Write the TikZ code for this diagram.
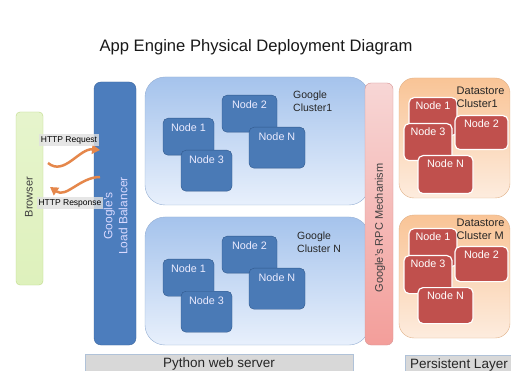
\documentclass[tikz,border=0pt]{standalone}
\usepackage{fontspec}
\setmainfont{Liberation Sans}
\usetikzlibrary{arrows.meta}

\definecolor{browsergreen}{RGB}{222,241,188}
\definecolor{browserline}{RGB}{190,218,136}
\definecolor{lbblue}{RGB}{76,125,189}
\definecolor{lbline}{RGB}{60,102,158}
\definecolor{clustertop}{RGB}{165,195,236}
\definecolor{clusterbottom}{RGB}{232,240,252}
\definecolor{clusterline}{RGB}{150,176,212}
\definecolor{gnodefill}{RGB}{74,122,182}
\definecolor{gnodeline}{RGB}{48,88,140}
\definecolor{rpctop}{RGB}{247,214,213}
\definecolor{rpcbottom}{RGB}{243,158,154}
\definecolor{rpcline}{RGB}{215,150,150}
\definecolor{dtop}{RGB}{249,196,150}
\definecolor{dbottom}{RGB}{253,236,222}
\definecolor{dnodefill}{RGB}{192,80,77}
\definecolor{flowcolor}{RGB}{229,135,75}
\definecolor{layergray}{RGB}{216,216,216}
\definecolor{layerline}{RGB}{176,194,216}

\begin{document}
\begin{tikzpicture}[x=1pt, y=-1pt,
	titletext/.style={font=\fontsize{16.6}{19}\selectfont, text=black!90},
	browserbox/.style={draw=browserline, top color=browsergreen!75!white, bottom color=browsergreen, rounded corners=4pt},
	lbbox/.style={draw=lbline, fill=lbblue, rounded corners=7pt},
	rpcbox/.style={draw=rpcline, top color=rpctop, bottom color=rpcbottom, rounded corners=6pt},
	gcluster/.style={draw=clusterline, top color=clustertop, bottom color=clusterbottom, rounded corners=20pt},
	dcluster/.style={draw=dtop!90!black, top color=dtop, bottom color=dbottom, rounded corners=15pt},
	gnode/.style={draw=gnodeline, fill=gnodefill, rounded corners=5pt, anchor=north, inner sep=0pt,
		text height=13pt, text=white!92!blue, font=\fontsize{10.8}{12}\selectfont},
	dnode/.style={draw=white, line width=1.2pt, fill=dnodefill, rounded corners=5pt, anchor=north, inner sep=0pt,
		text height=12pt, text=white, font=\fontsize{10.8}{12}\selectfont},
	clabel/.style={align=left, anchor=west, inner sep=0pt, font=\fontsize{10.5}{13}\selectfont, text=black!85},
	dlabel/.style={align=left, anchor=west, inner sep=0pt, font=\fontsize{11}{13}\selectfont, text=black!85},
	sidetext/.style={rotate=90, font=\fontsize{11}{13}\selectfont, text=black!75},
	msg/.style={fill=black!12, fill opacity=0.8, text opacity=1, inner sep=2pt, font=\fontsize{8.5}{10}\selectfont},
	flow/.style={line width=2.5pt, draw=flowcolor, -{Triangle[length=8pt, width=9pt]}},
	layer/.style={draw=layerline, fill=layergray, anchor=north, inner sep=0pt, text height=13pt, text depth=12pt,
		font=\fontsize{13.5}{16}\selectfont, text=black!85}]
	\useasboundingbox (0,0) rectangle (511,371);
	\clip (0,0) rectangle (511,371);
	\fill[white] (0,0) rectangle (511,371);

	\node[titletext] (title) at (256,47) {App Engine Physical Deployment Diagram};

	% browser and load balancer
	\node[browserbox, minimum width=27pt, minimum height=173pt] (browser) at (29.5,198.5) {};
	\node[sidetext] at (29,197) {Browser};
	\node[lbbox, minimum width=42pt, minimum height=263pt] (balancer) at (115,213.5) {};
	\node[rotate=90, align=center, text=white!85!blue, font=\fontsize{12}{15}\selectfont] at (115.5,216) {Google's\\Load Balancer};

	% google clusters
	\node[gcluster, minimum width=224pt, minimum height=128pt] (gc1) at (257,141) {};
	\node[clabel] at (293,101.5) {Google\\Cluster1};
	\node[gnode, minimum width=51pt, text depth=24pt] (g1n1) at (188.5,118) {Node 1};
	\node[gnode, minimum width=51pt, text depth=28pt] (g1n3) at (206.5,150) {Node 3};
	\node[gnode, minimum width=55pt, text depth=24pt] (g1n2) at (249.5,95) {Node 2};
	\node[gnode, minimum width=56pt, text depth=28pt] (g1nn) at (277,127) {Node N};

	\node[gcluster, minimum width=224pt, minimum height=128pt] (gcn) at (257,281) {};
	\node[clabel] at (297,242.5) {Google\\Cluster N};
	\node[gnode, minimum width=51pt, text depth=24pt] (gnn1) at (188.5,259) {Node 1};
	\node[gnode, minimum width=51pt, text depth=28pt] (gnn3) at (206.5,291) {Node 3};
	\node[gnode, minimum width=55pt, text depth=24pt] (gnn2) at (249.5,236) {Node 2};
	\node[gnode, minimum width=56pt, text depth=28pt] (gnnn) at (277,268) {Node N};

	% rpc
	\node[rpcbox, minimum width=28pt, minimum height=262pt] (rpc) at (379,214) {};
	\node[sidetext] at (380,228) {Google's RPC Mechanism};

	% datastore clusters
	\node[dcluster, minimum width=111pt, minimum height=120pt] (dc1) at (454.5,138) {};
	\node[dnode, minimum width=48pt, text depth=26pt] (d1n1) at (433,97) {Node 1};
	\node[dnode, minimum width=53pt, text depth=22pt] (d1n2) at (481.5,115) {Node 2};
	\node[dnode, minimum width=48pt, text depth=25pt] (d1n3) at (428,123) {Node 3};
	\node[dnode, minimum width=55pt, text depth=26pt] (d1nn) at (445.5,155) {Node N};
	\node[dlabel] at (456.5,97.5) {Datastore\\Cluster1};

	\node[dcluster, minimum width=111pt, minimum height=123pt] (dcm) at (454.5,276.5) {};
	\node[dnode, minimum width=48pt, text depth=26pt] (dmn1) at (433,228) {Node 1};
	\node[dnode, minimum width=53pt, text depth=23pt] (dmn2) at (481.5,246) {Node 2};
	\node[dnode, minimum width=48pt, text depth=26pt] (dmn3) at (428,255) {Node 3};
	\node[dnode, minimum width=55pt, text depth=24pt] (dmnn) at (445.5,287) {Node N};
	\node[dlabel] at (456.5,229.5) {Datastore\\Cluster M};

	% http traffic
	\coordinate (req start) at (48,163);
	\coordinate (req end) at (100,150);
	\coordinate (resp start) at (100,177);
	\coordinate (resp end) at (50,187);
	\draw[flow] (req start) to[out=-40, in=175] (req end);
	\draw[flow] (resp start) to[out=180, in=-35] (resp end);
	\node[msg] (req) at (69,140) {HTTP Request};
	\node[msg] (resp) at (70,203) {HTTP Response};

	% layers
	\node[layer, minimum width=268pt] (web) at (219,354) {Python web server};
	\node[layer, minimum width=108pt] (persist) at (459,355) {Persistent Layer};
\end{tikzpicture}
\end{document}
